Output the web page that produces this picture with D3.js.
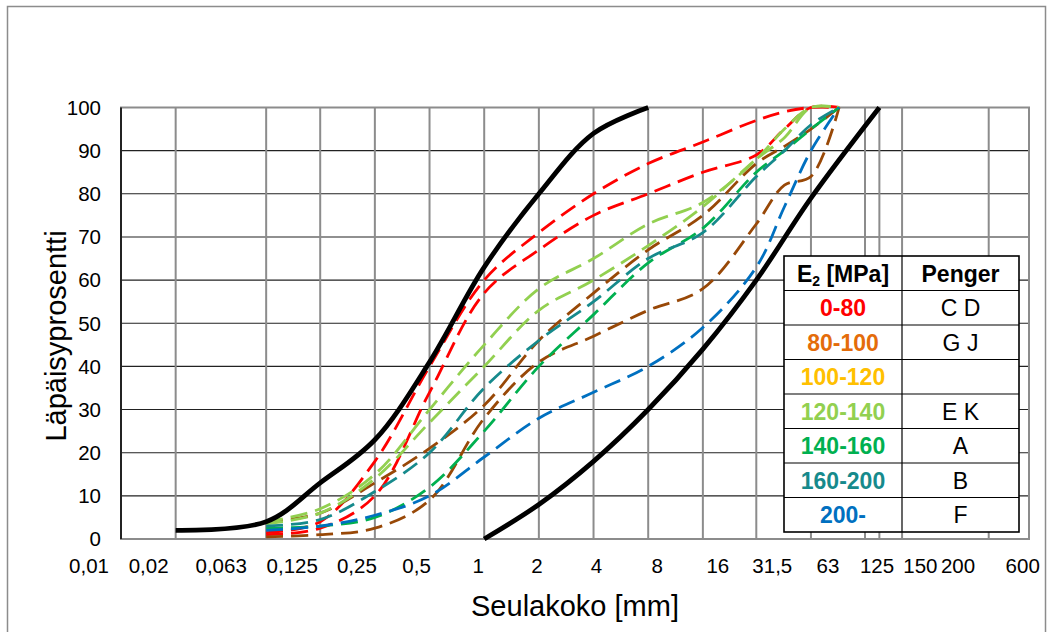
<!DOCTYPE html>
<html>
<head>
<meta charset="utf-8">
<script src="https://cdn.jsdelivr.net/npm/d3@7"></script>
<style>
  body { margin: 0; background: #fff; }
  svg { display: block; font-family: "Liberation Sans", Arial, sans-serif; }
</style>
</head>
<body>
<svg id="chart" width="1052" height="632"></svg>
<script>
// Sieve sizes (mm) of the measured gradings
var sieves = [0.063, 0.125, 0.25, 0.5, 1, 2, 4, 8, 16, 31.5, 45, 63, 90];

// Passing percentages per road section
var penC = [1.5, 4, 18, 40, 60, 71, 80, 87, 92, 97, 99, 100, 100];
var penD = [1, 2.5, 10, 34, 57, 67, 75, 80, 85, 89, 95, 100, 100];
var penG = [4, 6, 13, 21, 31, 46, 57, 67, 75, 87, 91, 95, 100];
var penJ = [0.5, 1, 2.5, 9, 28, 41, 47, 53, 58, 73, 82, 84, 100];
var penE = [4, 7, 15, 30, 45, 58, 65, 73, 78, 88, 95, 100, 100];
var penK = [3.5, 6, 14, 27, 40, 53, 60, 68, 77, 88, 93, 100, 100];
var penA = [2.5, 3, 5, 12, 25, 40, 52, 64, 72, 85, 90, 95, 100];
var penB = [3, 4.5, 11, 20, 35, 46, 55, 65, 71, 84, 90, 96, 100];
var penF = [2, 3, 5.5, 10, 19, 28, 34, 40, 49, 63, 77, 90, 100];

// Grading envelope (solid black)
var upperSieves = [0.02, 0.063, 0.125, 0.25, 0.5, 1, 2, 4, 8];
var upperLimit  = [2, 4, 13, 23, 41, 63, 80, 94, 100];
var lowerSieves = [1, 2, 4, 8, 16, 31.5, 63, 150];
var lowerLimit  = [0, 8, 18, 30, 44, 60, 79, 100];

// Axis ticks
var xTicks = [0.01, 0.02, 0.063, 0.125, 0.25, 0.5, 1, 2, 4, 8, 16, 31.5, 63, 125, 150, 200, 600];
var yTicks = [0, 10, 20, 30, 40, 50, 60, 70, 80, 90, 100];

// Legend table
var legendRange  = ["0-80", "80-100", "100-120", "120-140", "140-160", "160-200", "200-"];
var legendPenger = ["C D", "G J", "", "E K", "A", "B", "F"];

// ---- layout / styles ----
var colRed = "#ff0000", colBrown = "#984807", colOrange = "#e46c0a", colGold = "#ffc000",
    colLGreen = "#92d050", colGreen = "#00b050", colTeal = "#168a8c", colBlue = "#0070c0";
var legendColor = [colRed, colOrange, colGold, colLGreen, colGreen, colTeal, colBlue];

var series = [
  {v: penC, c: colRed}, {v: penD, c: colRed},
  {v: penG, c: colBrown}, {v: penJ, c: colBrown},
  {v: penE, c: colLGreen}, {v: penK, c: colLGreen},
  {v: penA, c: colGreen}, {v: penB, c: colTeal},
  {v: penF, c: colBlue}
];

// nudges of the x tick texts (they sit in a text row, not exactly under the gridlines)
var xLabelShift = [-32, -27, -45, -28, -18, -13, -6, -2, 3, 9, 15, 16, 17, 12, 41, 56, 34];

var plot = {left: 121, right: 1029, top: 107.5, bottom: 539};

var svg = d3.select("#chart");

// outer frame
svg.append("rect")
  .attr("x", 7.5).attr("y", 6.5)
  .attr("width", 1038).attr("height", 640)
  .attr("fill", "none").attr("stroke", "#8c8c8c").attr("stroke-width", 1.5);

var x = d3.scaleLog().domain([0.01, 1000]).range([plot.left, plot.right]);
var y = d3.scaleLinear().domain([0, 100]).range([plot.bottom, plot.top]);

// horizontal gridlines
svg.append("g").selectAll("line")
  .data(yTicks.slice(1, -1))
  .enter().append("line")
    .attr("x1", plot.left).attr("x2", plot.right)
    .attr("y1", d => y(d)).attr("y2", d => y(d))
    .attr("stroke", "#222").attr("stroke-width", 1.1);

// vertical gridlines
svg.append("g").selectAll("line")
  .data(xTicks.slice(1))
  .enter().append("line")
    .attr("x1", d => x(d)).attr("x2", d => x(d))
    .attr("y1", plot.top).attr("y2", plot.bottom)
    .attr("stroke", "#8c8c8c").attr("stroke-width", 2);

// plot border
svg.append("rect")
  .attr("x", plot.left).attr("y", plot.top)
  .attr("width", plot.right - plot.left).attr("height", plot.bottom - plot.top)
  .attr("fill", "none").attr("stroke", "#8c8c8c").attr("stroke-width", 2);

// left axis line
svg.append("line")
  .attr("x1", plot.left).attr("x2", plot.left)
  .attr("y1", plot.top).attr("y2", plot.bottom)
  .attr("stroke", "#000").attr("stroke-width", 1.5);

var line = d3.line()
  .x(d => x(d[0]))
  .y(d => y(d[1]))
  .curve(d3.curveCatmullRom.alpha(0.5));

// measured gradings (dashed)
svg.append("g").selectAll("path")
  .data(series)
  .enter().append("path")
    .attr("d", s => line(d3.zip(sieves, s.v)))
    .attr("fill", "none")
    .attr("stroke", s => s.c)
    .attr("stroke-width", 2.8)
    .attr("stroke-dasharray", "17,8");

// envelope
[[upperSieves, upperLimit], [lowerSieves, lowerLimit]].forEach(function(p) {
  svg.append("path")
    .attr("d", line(d3.zip(p[0], p[1])))
    .attr("fill", "none")
    .attr("stroke", "#000")
    .attr("stroke-width", 4.8);
});

// y tick labels
svg.append("g").selectAll("text")
  .data(yTicks)
  .enter().append("text")
    .attr("x", 101).attr("y", d => y(d))
    .attr("dy", "0.36em")
    .attr("text-anchor", "end")
    .attr("font-size", 20.5)
    .text(d => d);

// x tick labels
svg.append("g").selectAll("text")
  .data(xTicks)
  .enter().append("text")
    .attr("x", (d, i) => x(d) + xLabelShift[i])
    .attr("y", 573)
    .attr("text-anchor", "middle")
    .attr("font-size", 20.5)
    .text(d => String(d).replace(".", ","));

// axis titles
svg.append("text")
  .attr("x", 575).attr("y", 616)
  .attr("text-anchor", "middle")
  .attr("font-size", 29)
  .text("Seulakoko [mm]");

svg.append("text")
  .attr("transform", "translate(66,336) rotate(-90)")
  .attr("text-anchor", "middle")
  .attr("font-size", 29)
  .text("Läpäisyprosentti");

// legend table
var tab = {x0: 784, x1: 902, x2: 1019, y0: 256, rowH: 34.5};
var nRows = legendRange.length + 1;
var lg = svg.append("g");

lg.append("rect")
  .attr("x", tab.x0).attr("y", tab.y0)
  .attr("width", tab.x2 - tab.x0).attr("height", nRows * tab.rowH)
  .attr("fill", "#fff").attr("stroke", "#000").attr("stroke-width", 1.6);

lg.selectAll("line.row")
  .data(d3.range(1, nRows))
  .enter().append("line")
    .attr("class", "row")
    .attr("x1", tab.x0).attr("x2", tab.x2)
    .attr("y1", i => tab.y0 + i * tab.rowH).attr("y2", i => tab.y0 + i * tab.rowH)
    .attr("stroke", "#000").attr("stroke-width", 1.2);

lg.append("line")
  .attr("x1", tab.x1).attr("x2", tab.x1)
  .attr("y1", tab.y0).attr("y2", tab.y0 + nRows * tab.rowH)
  .attr("stroke", "#000").attr("stroke-width", 1.2);

var cx1 = (tab.x0 + tab.x1) / 2, cx2 = (tab.x1 + tab.x2) / 2;
var head = lg.append("text")
  .attr("x", cx1).attr("y", tab.y0 + tab.rowH / 2)
  .attr("dy", "0.36em")
  .attr("text-anchor", "middle")
  .attr("font-size", 23).attr("font-weight", "bold");
head.append("tspan").text("E");
head.append("tspan").attr("font-size", 14).attr("dy", 4).text("2");
head.append("tspan").attr("dy", -4).text(" [MPa]");

lg.append("text")
  .attr("x", cx2).attr("y", tab.y0 + tab.rowH / 2)
  .attr("dy", "0.36em")
  .attr("text-anchor", "middle")
  .attr("font-size", 23).attr("font-weight", "bold")
  .text("Penger");

lg.selectAll("text.range")
  .data(legendRange)
  .enter().append("text")
    .attr("class", "range")
    .attr("x", cx1)
    .attr("y", (d, i) => tab.y0 + (i + 1.5) * tab.rowH)
    .attr("dy", "0.36em")
    .attr("text-anchor", "middle")
    .attr("font-size", 23).attr("font-weight", "bold")
    .attr("fill", (d, i) => legendColor[i])
    .text(d => d);

lg.selectAll("text.penger")
  .data(legendPenger)
  .enter().append("text")
    .attr("class", "penger")
    .attr("x", cx2)
    .attr("y", (d, i) => tab.y0 + (i + 1.5) * tab.rowH)
    .attr("dy", "0.36em")
    .attr("text-anchor", "middle")
    .attr("font-size", 23)
    .text(d => d);
</script>
</body>
</html>
